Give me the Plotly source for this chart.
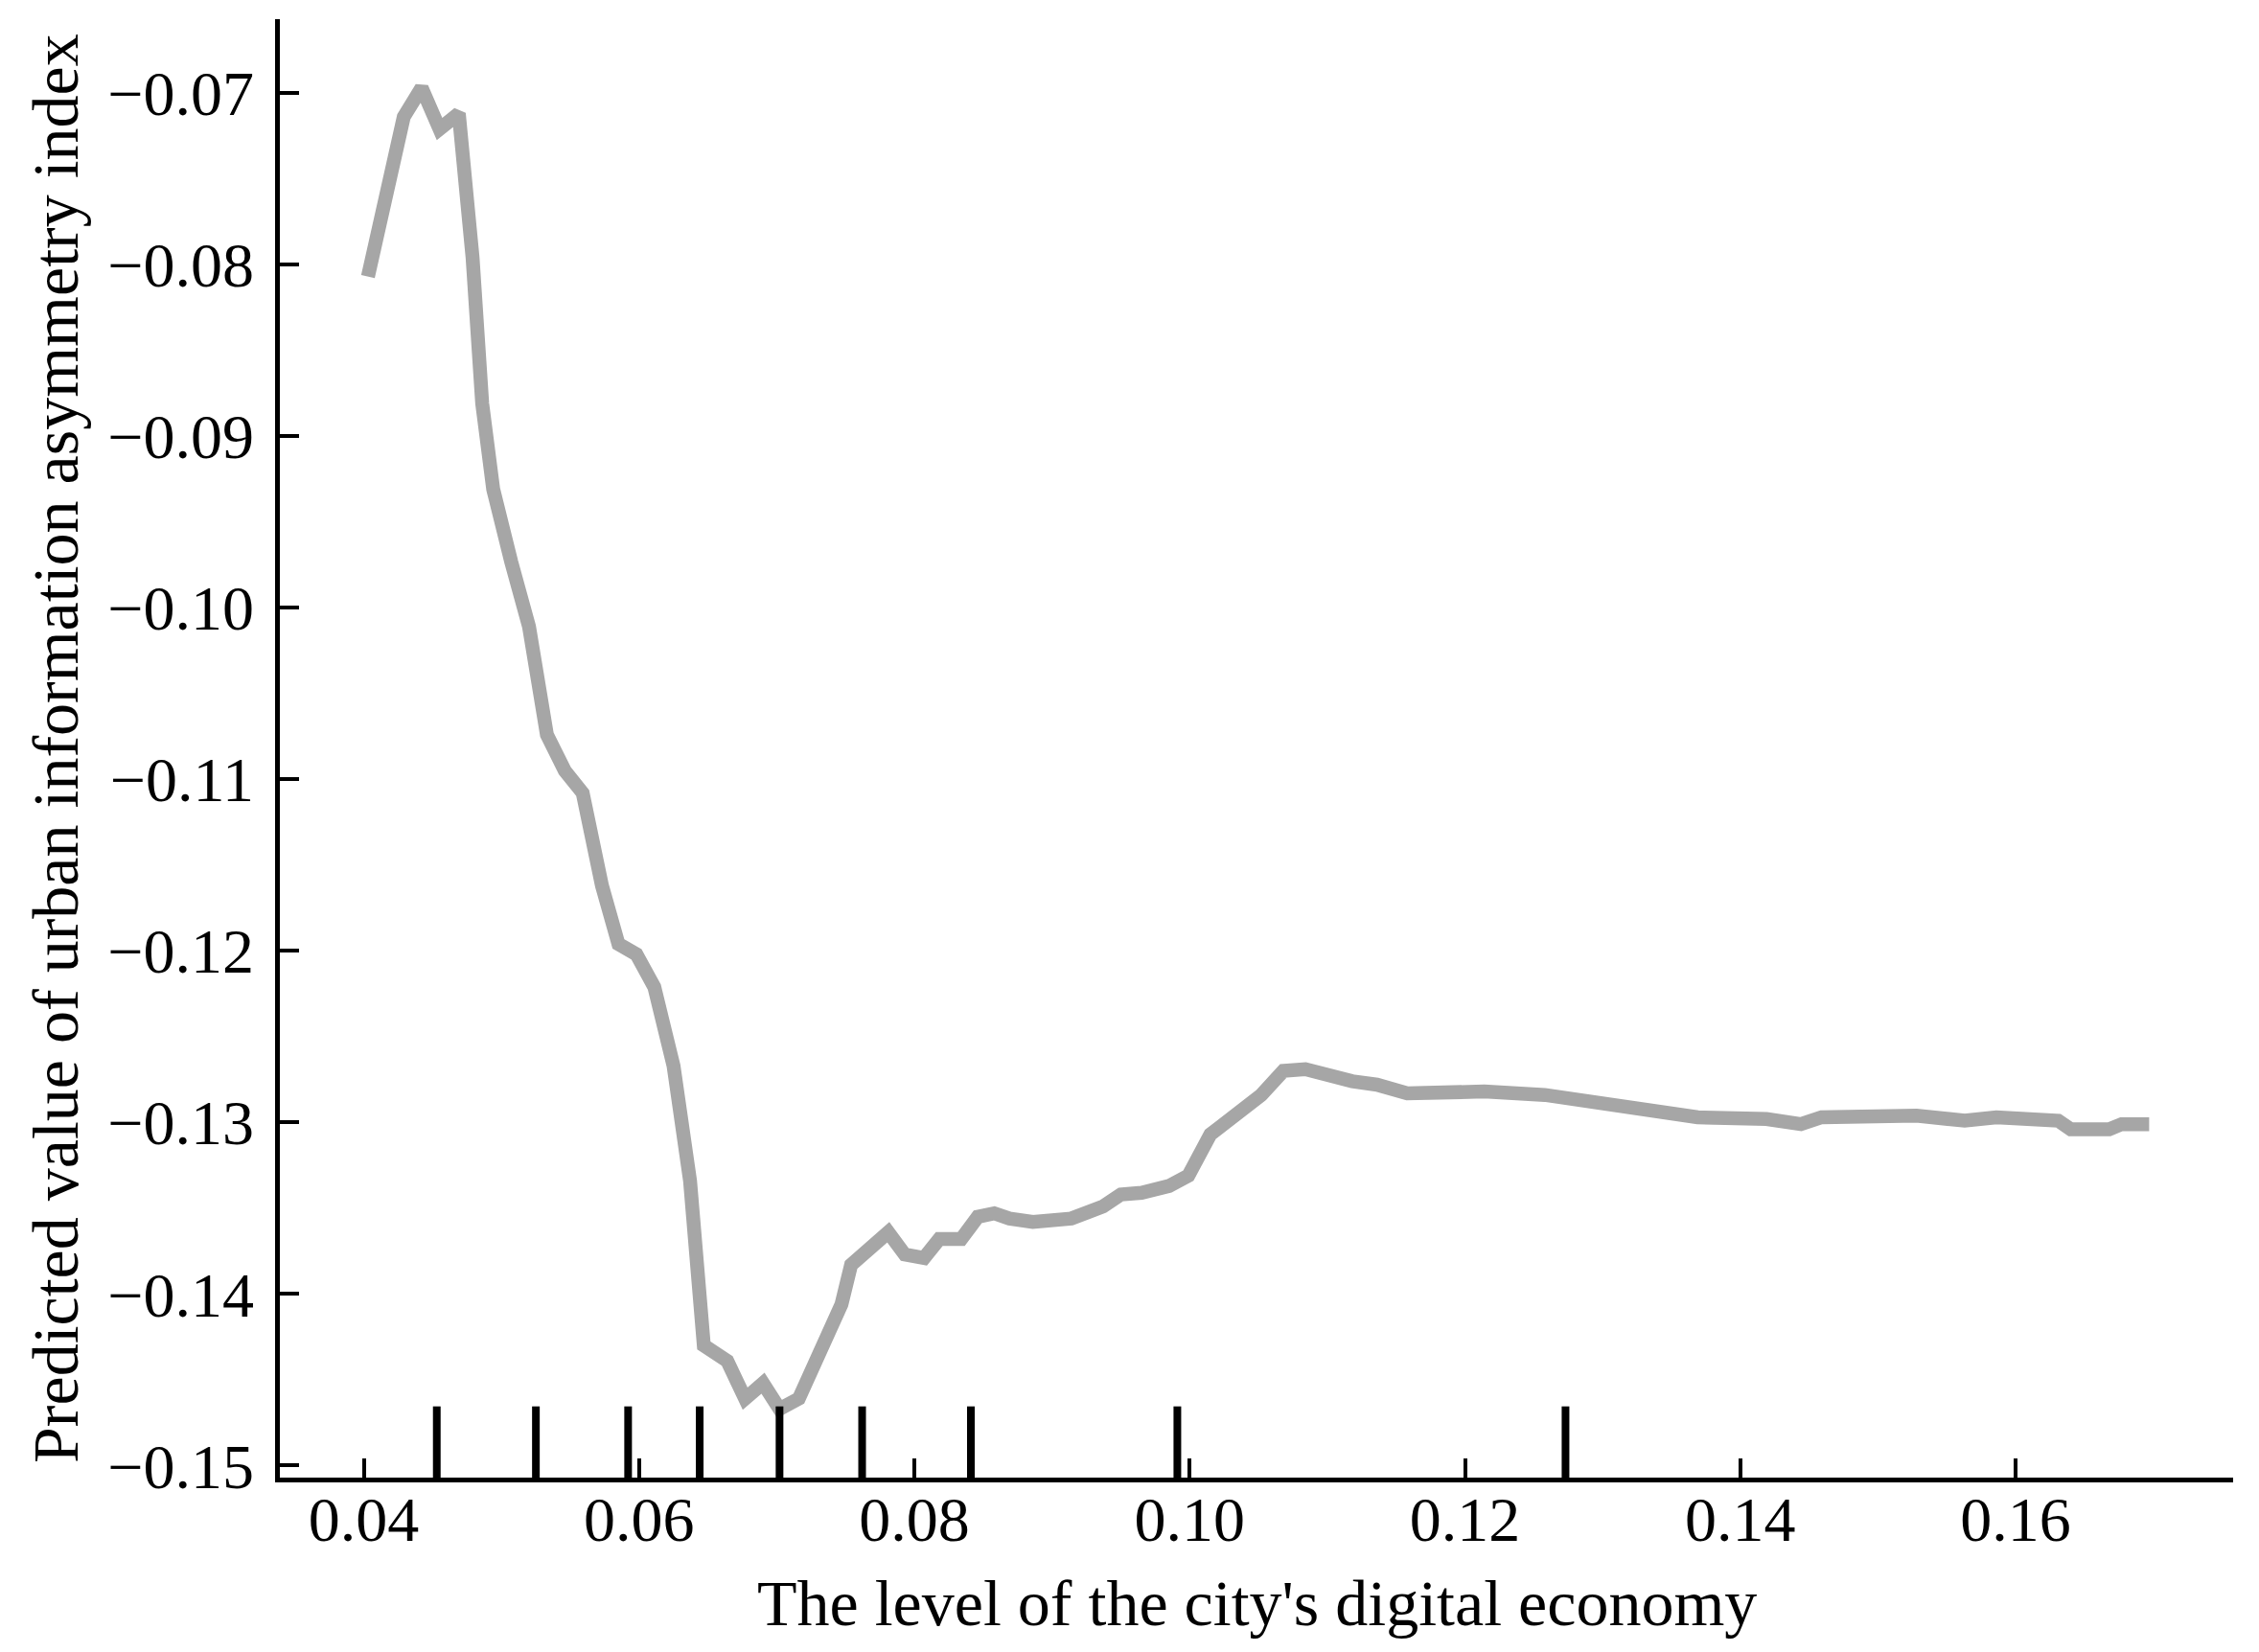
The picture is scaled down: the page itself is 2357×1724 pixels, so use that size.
import plotly.graph_objects as go

# predicted urban information asymmetry index vs. digital economy level
econ_level = [0.0403, 0.0413, 0.0429, 0.0442, 0.0455, 0.0469, 0.0479, 0.0486, 0.0494, 0.0507,
              0.0520, 0.0533, 0.0546, 0.0559, 0.0573, 0.0585, 0.0598, 0.0611, 0.0625, 0.0637,
              0.0647, 0.0664, 0.0677, 0.0690, 0.0702, 0.0716, 0.0733, 0.0747, 0.0754, 0.0765,
              0.0781, 0.0793, 0.0807, 0.0818, 0.0834, 0.0846, 0.0858, 0.0869, 0.0886, 0.0914,
              0.0937, 0.0950, 0.0965, 0.0985, 0.0999, 0.1015, 0.1033, 0.1052, 0.1068, 0.1084,
              0.1118, 0.1136, 0.1158, 0.1185, 0.1214, 0.1258, 0.1307, 0.1369, 0.1419, 0.1444,
              0.1459, 0.1528, 0.1563, 0.1586, 0.1631, 0.1640, 0.1668, 0.1677, 0.1697]
pred_value = [-0.0807, -0.0770, -0.0714, -0.0697, -0.0721, -0.0712, -0.0796, -0.0881, -0.0931, -0.0973,
              -0.1011, -0.1074, -0.1095, -0.1108, -0.1162, -0.1196, -0.1202, -0.1221, -0.1267, -0.1334,
              -0.1430, -0.1439, -0.1461, -0.1452, -0.1467, -0.1461, -0.1433, -0.1406, -0.1383, -0.1376,
              -0.1364, -0.1377, -0.1379, -0.1368, -0.1368, -0.1355, -0.1353, -0.1356, -0.1358, -0.1356,
              -0.1349, -0.1342, -0.1341, -0.1337, -0.1331, -0.1307, -0.1296, -0.1284, -0.1270, -0.1269,
              -0.1276, -0.1278, -0.1283, -0.1282, -0.1282, -0.1284, -0.1289, -0.1297, -0.1298, -0.1301,
              -0.1297, -0.1296, -0.1299, -0.1297, -0.1299, -0.1304, -0.1304, -0.1301, -0.1301]

# deciles of the digital economy level (rug marks)
decile_x = [0.0453, 0.0525, 0.0592, 0.0644, 0.0702, 0.0762, 0.0841, 0.0991, 0.1273]

x_ticks = [0.04, 0.06, 0.08, 0.10, 0.12, 0.14, 0.16]
x_ticktext = ["0.04", "0.06", "0.08", "0.10", "0.12", "0.14", "0.16"]
y_ticks = [-0.07, -0.08, -0.09, -0.10, -0.11, -0.12, -0.13, -0.14, -0.15]
y_ticktext = ["\u22120.07", "\u22120.08", "\u22120.09", "\u22120.10", "\u22120.11",
              "\u22120.12", "\u22120.13", "\u22120.14", "\u22120.15"]

x_range = [0.0339, 0.1758]
y_range = [-0.1507, -0.0657]
rug_top = -0.14655

FONT = "Liberation Serif, Times New Roman, serif"

fig = go.Figure()

fig.add_trace(go.Scatter(
    x=econ_level, y=pred_value, mode="lines",
    line=dict(color="#a6a6a6", width=14.5),
    showlegend=False, hoverinfo="skip"
))

# rug: one vertical segment per decile
rx, ry = [], []
for v in decile_x:
    rx += [v, v, None]
    ry += [y_range[0], rug_top, None]
fig.add_trace(go.Scatter(
    x=rx, y=ry, mode="lines",
    line=dict(color="black", width=8),
    showlegend=False, hoverinfo="skip"
))

fig.update_xaxes(
    range=x_range, tickvals=x_ticks, ticktext=x_ticktext,
    showline=True, linecolor="black", linewidth=4.5,
    ticks="inside", ticklen=20, tickwidth=4, tickcolor="black",
    ticklabelstandoff=-18,
    showgrid=False, zeroline=False,
    tickfont=dict(family=FONT, size=66, color="black"),
)
fig.update_yaxes(
    range=y_range, tickvals=y_ticks, ticktext=y_ticktext,
    showline=True, linecolor="black", linewidth=4.5,
    ticks="inside", ticklen=20, tickwidth=4, tickcolor="black",
    ticklabelstandoff=9,
    showgrid=False, zeroline=False,
    tickfont=dict(family=FONT, size=66, color="black"),
)

fig.add_annotation(
    text="The level of the city's digital economy",
    xref="paper", yref="paper", x=0.5, y=0, xanchor="center", yanchor="middle",
    yshift=-131, showarrow=False,
    font=dict(family=FONT, size=68, color="black"),
)
fig.add_annotation(
    text="Predicted value of urban information asymmetry index",
    xref="paper", yref="paper", x=0, y=0.5, xanchor="center", yanchor="middle",
    xshift=-234, textangle=-90, showarrow=False,
    font=dict(family=FONT, size=68, color="black"),
)

fig.update_layout(
    width=2357, height=1724,
    margin=dict(l=292, r=27, t=20, b=182),
    plot_bgcolor="white", paper_bgcolor="white",
)

fig.write_html("out.html", config={"displayModeBar": False},
               post_script="document.body.style.margin='0';document.body.style.overflow='hidden';")
